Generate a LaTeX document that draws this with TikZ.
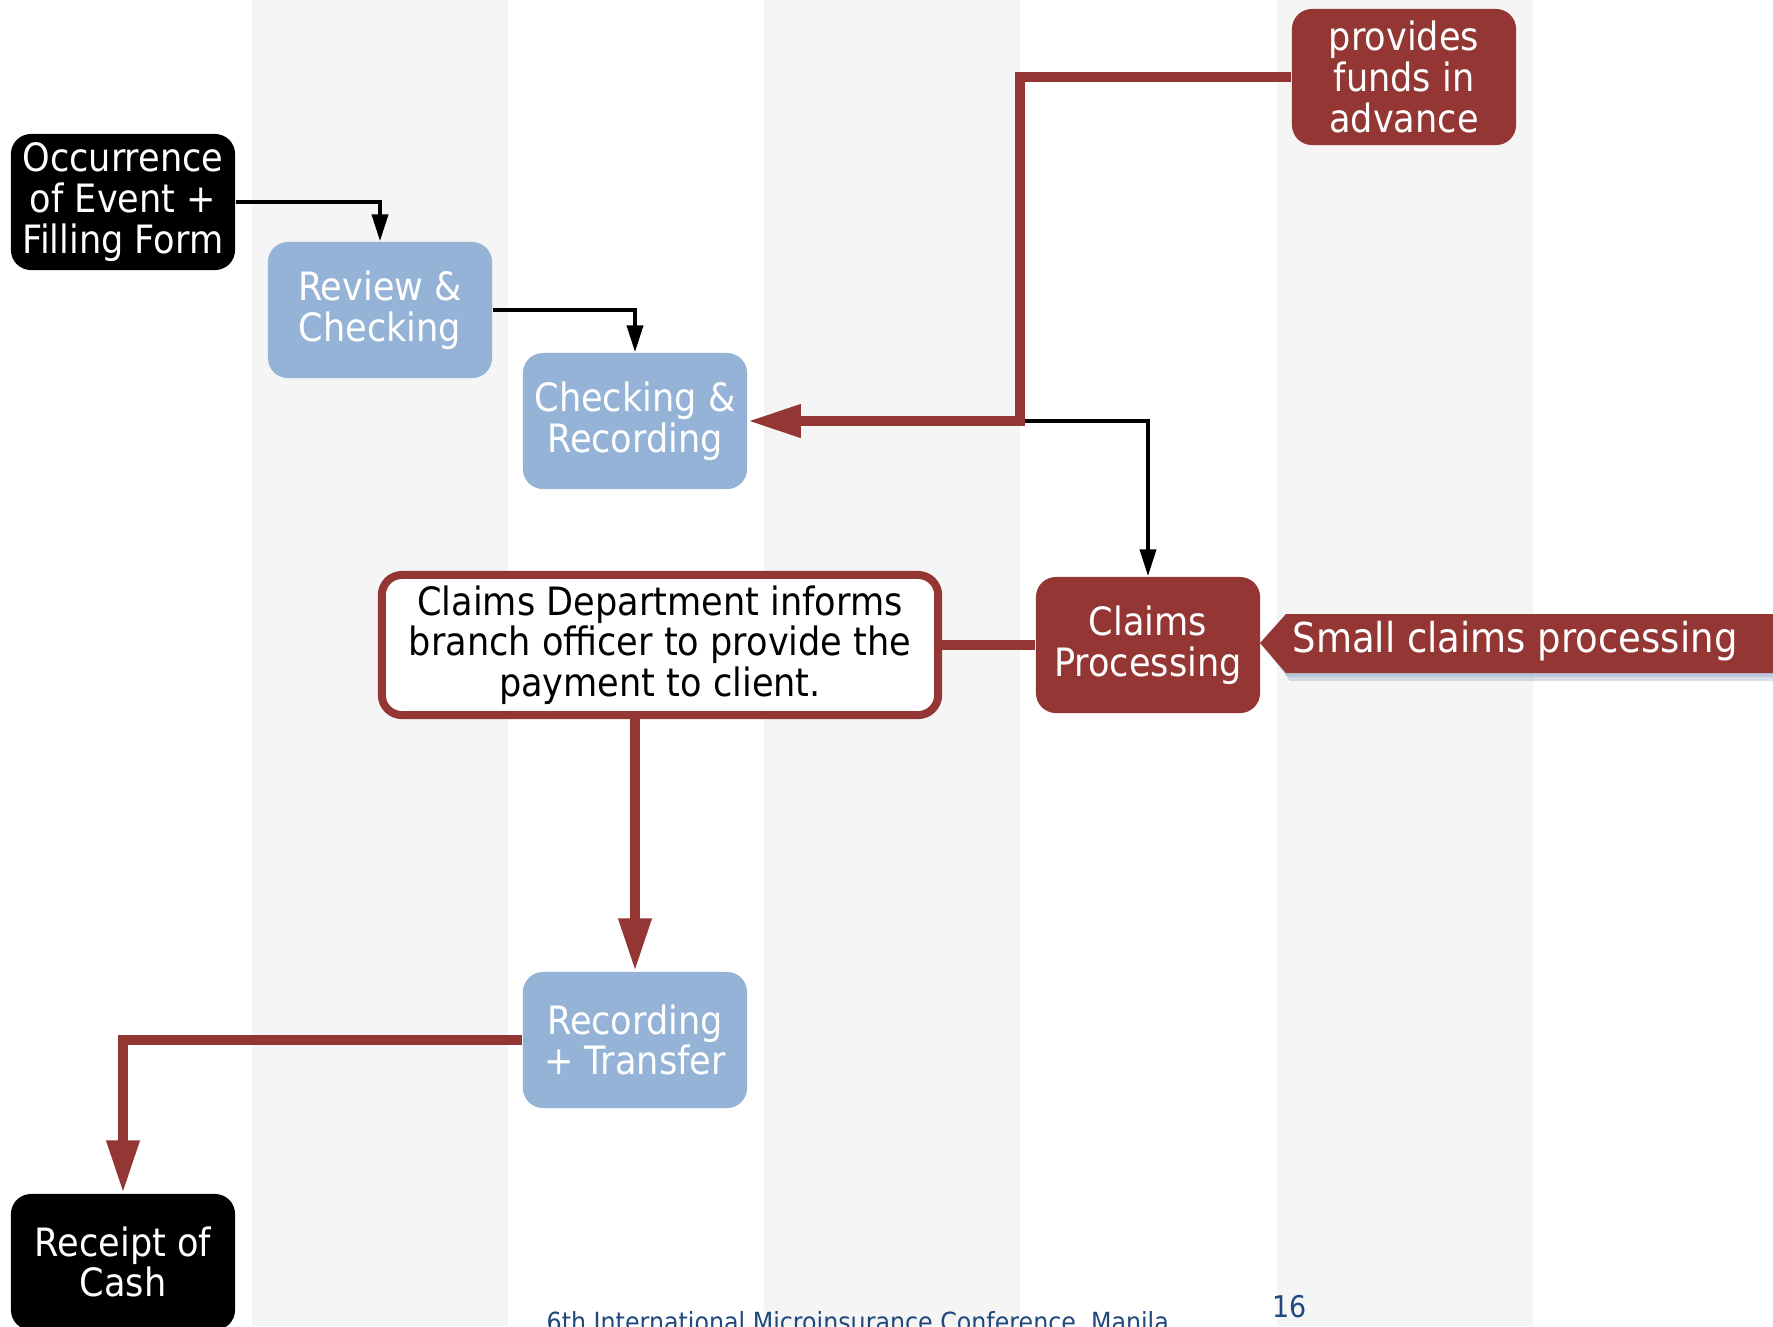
\documentclass[tikz,border=0pt]{standalone}
\usepackage{fontspec}
\setmainfont{DejaVu Sans}[FakeStretch=0.9]
\usepackage{tikz}
\usetikzlibrary{arrows.meta}
\definecolor{claimred}{HTML}{943634}
\definecolor{stepblue}{HTML}{95B3D7}
\definecolor{stripegray}{HTML}{F5F5F5}
\definecolor{footblue}{HTML}{1F497D}
\definecolor{shadowblue}{HTML}{7F96BF}

\begin{document}
\begin{tikzpicture}[x=0.01cm, y=-0.01cm,
    box/.style={rounded corners=0.2cm, minimum width=2.24cm, minimum height=1.36cm,
      inner sep=0pt, align=center, font=\fontsize{11.1}{11.6}\selectfont},
    blackbox/.style={box, fill=black, text=white},
    bluebox/.style={box, fill=stepblue, text=white},
    redbox/.style={box, fill=claimred, text=white},
    flowarrow/.style={draw=black, line width=0.04cm, -{Triangle[length=0.27cm, width=0.16cm]}},
    fundline/.style={draw=claimred, line width=0.1cm},
    fundarrow/.style={fundline, -{Triangle[length=0.53cm, width=0.31cm]}}
  ]
    % Page frame and column stripes
    \useasboundingbox (0,0) rectangle (1773,1326);
    \clip (0,0) rectangle (1773,1326);
    \fill[white] (0,0) rectangle (1773,1326);
    \foreach \sx in {252,764,1277}
      \fill[stripegray] (\sx,0) rectangle ++(256,1326);

    % Steps of the claim
    \node[blackbox] (occurrence) at (123,202) {Occurrence\\of Event +\\Filling Form};
    \node[bluebox] (review) at (380,310) {Review \&\\Checking};
    \node[bluebox] (checkrec) at (635,421) {Checking \&\\Recording};
    \node[redbox] (funds) at (1404,77) {provides\\funds in\\advance};
    \node[redbox] (claims) at (1148,645) {Claims\\Processing};
    \node[box, fill=white, draw=claimred, line width=0.08cm, minimum width=5.56cm,
      minimum height=1.40cm, text=black] (dept) at (660,645)
      {Claims Department informs\\branch officer to provide the\\payment to client.};
    \node[bluebox] (rectrans) at (635,1040) {Recording\\+ Transfer};
    \node[blackbox] (receipt) at (123,1262) {Receipt of\\Cash};

    % Banner on the right
    \fill[shadowblue, opacity=0.3] (1266,649) -- (1290,620) -- (1790,620) -- (1790,681) -- (1290,681) -- cycle;
    \fill[shadowblue, opacity=0.3] (1263,646) -- (1288,617) -- (1790,617) -- (1790,677) -- (1288,677) -- cycle;
    \fill[claimred] (1260,643) -- (1286,614) -- (1790,614) -- (1790,673) -- (1286,673) -- cycle;
    \node[text=white, font=\fontsize{11.7}{13}\selectfont, inner sep=0pt] (smallclaims) at (1515,641) {Small claims processing};

    % Connectors
    \coordinate (split) at (1020,421);
    \draw[flowarrow] (occurrence.east) -| (review.north);
    \draw[flowarrow] (review.east) -| (checkrec.north);
    \draw[flowarrow] (split) -| (claims.north);
    \draw[fundarrow] (funds.west) -| (split) -- (checkrec.east);
    \draw[fundline] (claims.west) -- (dept.east);
    \draw[fundarrow] (dept.south -| rectrans.north) -- (rectrans.north);
    \draw[fundarrow] (rectrans.west) -| (receipt.north);

    % Footer
    \node[anchor=base west, text=footblue, font=\fontsize{7.5}{8}\selectfont, inner sep=0pt] (footer) at (546,1331) {6th International Microinsurance Conference, Manila};
    \node[anchor=base west, text=footblue, font=\fontsize{8.5}{9}\selectfont, inner sep=0pt] (pageno) at (1272,1317) {16};
  \end{tikzpicture}
\end{document}
